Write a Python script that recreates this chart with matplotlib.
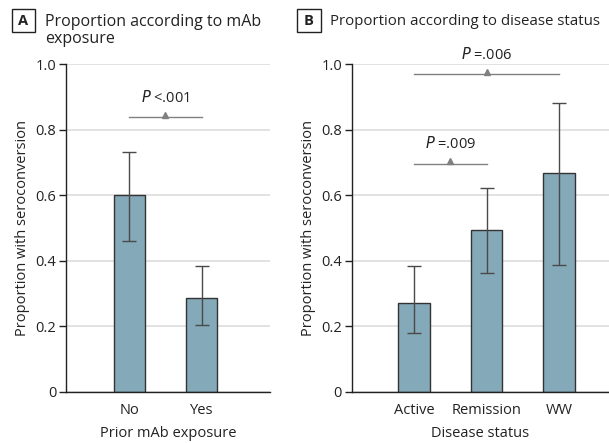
import matplotlib
matplotlib.use("Agg")
import matplotlib.pyplot as plt

plt.rcParams["font.family"] = ["Open Sans", "DejaVu Sans"]

# Panel A data
exposure_labels = ["No", "Yes"]
exposure_prop = [0.60, 0.285]
exposure_lo = [0.461, 0.203]
exposure_hi = [0.732, 0.383]

# Panel B data
status_labels = ["Active", "Remission", "WW"]
status_prop = [0.272, 0.494, 0.668]
status_lo = [0.178, 0.364, 0.386]
status_hi = [0.383, 0.622, 0.883]

# significance brackets: (left index, right index, height, label)
brackets_a = [(0, 1, 0.838, "<.001")]
brackets_b = [(0, 1, 0.697, "=.009"), (0, 2, 0.969, "=.006")]

BAR_COLOR = "#84a9b8"
EDGE = "#333333"
GRID = "#dddddd"
SIG = "#808080"
TXT = "#222222"

W, H = 609, 443
fig = plt.figure(figsize=(W / 100, H / 100), dpi=100)
ax_a = fig.add_axes([66 / W, 1 - 391.7 / H, 204 / W, 327.4 / H])
ax_b = fig.add_axes([351.7 / W, 1 - 391.7 / H, 257.3 / W, 327.4 / H])


def draw_panel(ax, labels, prop, lo, hi, brackets, xlim, xlabel):
    x = list(range(len(labels)))
    yerr = [[p - l for p, l in zip(prop, lo)], [h - p for p, h in zip(prop, hi)]]
    ax.bar(x, prop, width=0.43, color=BAR_COLOR, edgecolor=EDGE, linewidth=1.0, zorder=2)
    ax.errorbar(x, prop, yerr=yerr, fmt="none", ecolor="#4a4a4a", elinewidth=1.0,
                capsize=4.7, capthick=1.0, zorder=3)
    for i, j, h, txt in brackets:
        ax.plot([x[i], x[j]], [h, h], color=SIG, lw=1.0, zorder=3, clip_on=False)
        ax.plot([(x[i] + x[j]) / 2], [h + 0.008], marker="^", color=SIG, ms=5,
                zorder=3, clip_on=False)
        ax.text((x[i] + x[j]) / 2, h + 0.035, r"$\it{P}$ " + txt, ha="center", va="bottom",
                fontsize=10.5, color=TXT, clip_on=False)
    ax.set_xlim(*xlim)
    ax.set_ylim(0, 1.0)
    ax.set_yticks([0, 0.2, 0.4, 0.6, 0.8, 1.0])
    ax.set_yticklabels(["0", "0.2", "0.4", "0.6", "0.8", "1.0"])
    ax.set_xticks(x)
    ax.set_xticklabels(labels)
    ax.tick_params(axis="x", length=0, pad=8, labelsize=10.5, colors=TXT)
    ax.tick_params(axis="y", length=5, width=1, pad=2, labelsize=10.5, colors=TXT)
    ax.yaxis.grid(True, color=GRID, lw=1.2, zorder=0)
    ax.set_axisbelow(True)
    for s in ["top", "right"]:
        ax.spines[s].set_visible(False)
    for s in ["left", "bottom"]:
        ax.spines[s].set_color(TXT)
        ax.spines[s].set_linewidth(1.0)
    ax.set_xlabel(xlabel, fontsize=10.5, color=TXT, labelpad=6)
    ax.set_ylabel("Proportion with seroconversion", fontsize=10.5, color=TXT, labelpad=4)


draw_panel(ax_a, exposure_labels, exposure_prop, exposure_lo, exposure_hi, brackets_a,
           (-0.87, 1.94), "Prior mAb exposure")
draw_panel(ax_b, status_labels, status_prop, status_lo, status_hi, brackets_b,
           (-0.86, 2.69), "Disease status")


def panel_title(box_x0, box_w, title_x, letter, title, max_w=None):
    y0 = 1 - 32 / H
    fig.patches.append(plt.Rectangle((box_x0 / W, y0), box_w / W, 23 / H,
                                     transform=fig.transFigure, fill=False,
                                     edgecolor=TXT, lw=1.0))
    fig.text((box_x0 + box_w / 2) / W, y0 + 11.5 / H, letter, ha="center", va="center",
             fontsize=10.5, fontweight="bold", color=TXT)
    t = fig.text(title_x / W, 1 - 14 / H, title, ha="left", va="top",
                 fontsize=11.5, color=TXT, linespacing=1.1)
    if max_w is not None:
        r = fig.canvas.get_renderer()
        w = t.get_window_extent(r).width
        if w > max_w:
            t.set_fontsize(11.5 * max_w / w)


panel_title(12, 23, 45, "A", "Proportion according to mAb\nexposure")
panel_title(297, 24, 330, "B", "Proportion according to disease status", max_w=269)

fig.savefig("out.png", dpi=100)
